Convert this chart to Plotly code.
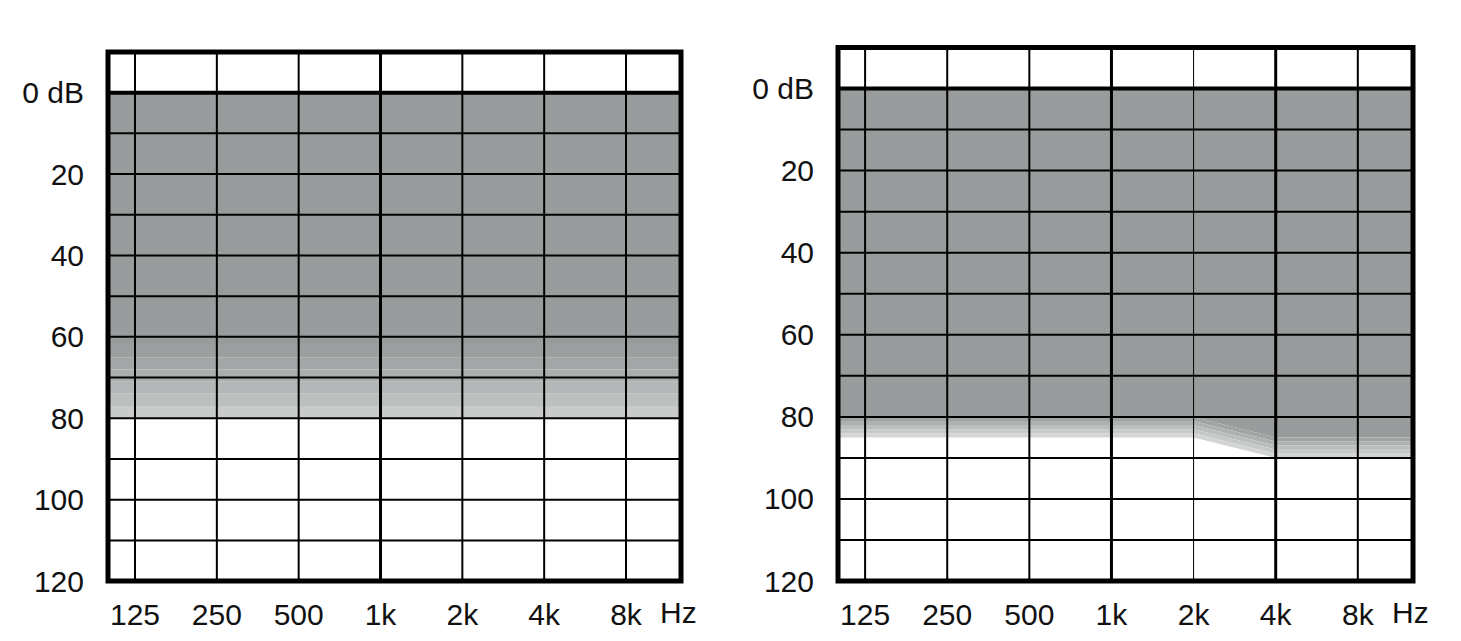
import math
import plotly.graph_objects as go

# ---------------- data ----------------
freqs = [125, 250, 500, 1000, 2000, 4000, 8000]
freq_labels = ["125", "250", "500", "1k", "2k", "4k", "8k"]
db_ticks = [0, 20, 40, 60, 80, 100, 120]
db_labels = ["0 dB", "20", "40", "60", "80", "100", "120"]
db_grid = [0, 10, 20, 30, 40, 50, 60, 70, 80, 90, 100, 110]

# left audiogram: region top / solid bottom / faded bottom (dB HL) per frequency
left_top = [0, 0, 0, 0, 0, 0, 0]
left_solid = [62, 62, 62, 62, 62, 62, 62]
left_fade = [80, 80, 80, 80, 80, 80, 80]

# right audiogram
right_top = [0, 0, 0, 0, 0, 0, 0]
right_solid = [80, 80, 80, 80, 80, 85, 85]
right_fade = [85, 85, 85, 85, 85, 90, 90]

# ---------------- style ----------------
W, H = 1461, 641
# rendering compensation (page offset / effective drawing height)
OX, OY, PW, PH = 8, 8, 1461, 625


def px_x(x):
    return (x - OX) / PW


def px_y(y):
    return 1 - (y - OY) / PH


FONT = "Liberation Sans, Arial, sans-serif"
FSIZE = 30
SOLID = "#999c9c"
LEFT_FADE_COLORS = ["#9c9f9f", "#a3a6a6", "#abaeae", "#b4b7b7", "#bdc0c0", "#c9cbcb"]
RIGHT_FADE_COLORS = ["#a1a4a4", "#aeb1b1", "#bbbebe", "#c7c9c9", "#d3d5d5"]

XR = [math.log10(125) - 0.33 * math.log10(2), math.log10(8000) + 0.672 * math.log10(2)]
X_LO, X_HI = 60, 17000  # fill extends beyond visible range (clipped)

panels = [
    dict(dom_x=[px_x(108), px_x(681)], dom_y=[px_y(582), px_y(52)],
         top=left_top, solid=left_solid, fade=left_fade, fade_colors=LEFT_FADE_COLORS,
         vwidths={1000: 3}),
    dict(dom_x=[px_x(838), px_x(1413)], dom_y=[px_y(582), px_y(47.5)],
         top=right_top, solid=right_solid, fade=right_fade, fade_colors=RIGHT_FADE_COLORS,
         vwidths={1000: 3, 2000: 1, 4000: 3}),
]

fig = go.Figure()


def ext(vals):
    return [vals[0]] + list(vals) + [vals[-1]]


fx = [X_LO] + freqs + [X_HI]

for i, p in enumerate(panels, start=1):
    xa = "x" if i == 1 else f"x{i}"
    ya = "y" if i == 1 else f"y{i}"

    def poly(upper, lower, color):
        fig.add_trace(go.Scatter(
            x=fx + fx[::-1], y=ext(upper) + ext(lower)[::-1],
            fill="toself", fillcolor=color, mode="lines", line=dict(width=0),
            hoverinfo="skip", showlegend=False, xaxis=xa, yaxis=ya))

    poly(p["top"], p["solid"], SOLID)
    n = len(p["fade_colors"])
    for k, c in enumerate(p["fade_colors"]):
        up = [s + (f - s) * k / n for s, f in zip(p["solid"], p["fade"])]
        lo = [s + (f - s) * (k + 1) / n for s, f in zip(p["solid"], p["fade"])]
        poly(up, lo, c)

    # grid lines (drawn above the fill)
    for d in db_grid:
        fig.add_trace(go.Scatter(
            x=[X_LO, X_HI], y=[d, d], mode="lines",
            line=dict(color="black", width=4 if d == 0 else 2),
            hoverinfo="skip", showlegend=False, xaxis=xa, yaxis=ya))
    for f in freqs:
        fig.add_trace(go.Scatter(
            x=[f, f], y=[-20, 130], mode="lines",
            line=dict(color="black", width=p["vwidths"].get(f, 2)),
            hoverinfo="skip", showlegend=False, xaxis=xa, yaxis=ya))

    xkey = "xaxis" if i == 1 else f"xaxis{i}"
    ykey = "yaxis" if i == 1 else f"yaxis{i}"
    fig.update_layout(**{
        xkey: dict(domain=p["dom_x"], type="log", range=XR, anchor=ya,
                   tickvals=freqs, ticktext=freq_labels, showgrid=False,
                   zeroline=False, showline=False, ticks="",
                   ticklabelstandoff=13,
                   tickfont=dict(family=FONT, size=FSIZE, color="#111")),
        ykey: dict(domain=p["dom_y"], range=[120, -10], anchor=xa,
                   tickvals=db_ticks, ticktext=db_labels, showgrid=False,
                   zeroline=False, showline=False, ticks="",
                   ticklabelstandoff=23,
                   tickfont=dict(family=FONT, size=FSIZE, color="#111")),
    })

    # frame
    fig.add_shape(type="rect", xref=f"{xa} domain", yref=f"{ya} domain",
                  x0=0, x1=1, y0=0, y1=1, line=dict(color="black", width=5),
                  layer="above")
    fig.add_annotation(text="Hz", xref=f"{xa} domain", yref="paper",
                       x=0.995, y=px_y(613), showarrow=False,
                       xanchor="center", yanchor="middle",
                       font=dict(family=FONT, size=FSIZE, color="#111"))

fig.update_layout(width=W, height=H, margin=dict(l=0, r=0, t=0, b=0),
                  paper_bgcolor="white", plot_bgcolor="white",
                  showlegend=False)

fig.write_html("out.html")
